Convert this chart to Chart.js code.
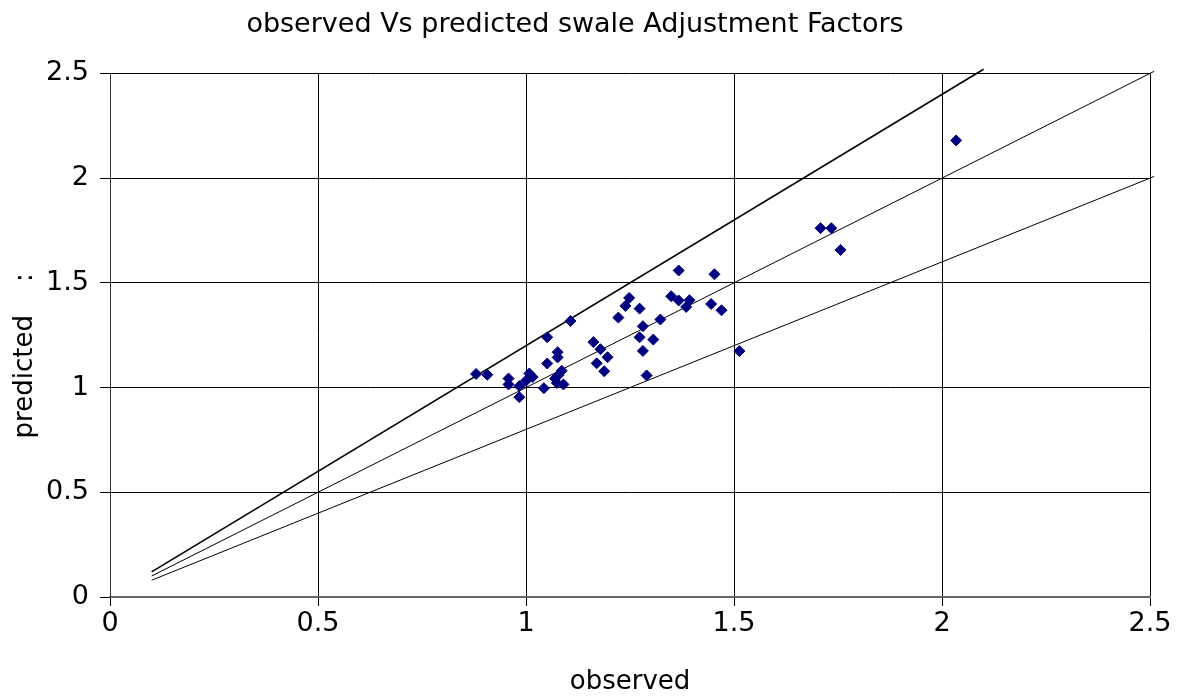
<!DOCTYPE html>
<html>
<head>
<meta charset="utf-8">
<script src="https://cdn.jsdelivr.net/npm/chart.js@4"></script>
<style>
  html, body { margin: 0; padding: 0; background: #fff; }
  #wrap { width: 1179px; height: 698px; }
</style>
</head>
<body>
<div id="wrap"><canvas id="swaleChart"></canvas></div>
<script>
// observed / predicted adjustment factors
const observed = [0.880, 0.907, 0.958, 0.958, 0.984, 0.984, 1.000, 1.008, 1.016, 1.043,
  1.051, 1.051, 1.076, 1.076, 1.070, 1.086, 1.078, 1.074, 1.090, 1.107,
  1.162, 1.170, 1.179, 1.188, 1.196, 1.222, 1.239, 1.248, 1.273, 1.281,
  1.273, 1.281, 1.306, 1.290, 1.323, 1.349, 1.367, 1.367, 1.385, 1.393,
  1.445, 1.453, 1.470, 1.513, 1.708, 1.734, 1.756, 2.034];
const predicted = [1.065, 1.061, 1.043, 1.015, 1.007, 0.954, 1.032, 1.067, 1.050, 0.997,
  1.115, 1.240, 1.169, 1.144, 1.043, 1.080, 1.059, 1.022, 1.015, 1.318,
  1.217, 1.116, 1.183, 1.078, 1.145, 1.334, 1.390, 1.428, 1.377, 1.293,
  1.240, 1.175, 1.229, 1.058, 1.325, 1.436, 1.559, 1.416, 1.385, 1.417,
  1.399, 1.541, 1.369, 1.174, 1.761, 1.761, 1.657, 2.180];

// reference lines: +20%, 1:1, -20%
const upperX = [0.1, 2.1];
const upperY = [0.12, 2.52];
const equalX = [0.1, 2.51];
const equalY = [0.1, 2.51];
const lowerX = [0.1, 2.51];
const lowerY = [0.08, 2.008];

const tickValues = [0, 0.5, 1, 1.5, 2, 2.5];
const tickLabels = ['0', '0.5', '1', '1.5', '2', '2.5'];

const FONT = "'DejaVu Sans', sans-serif";

function toPoints(xs, ys) {
    return xs.map((x, i) => ({ x: x, y: ys[i] }));
}

function lineSet(xs, ys, width) {
    return {
        data: toPoints(xs, ys),
        showLine: true,
        borderColor: '#000',
        borderWidth: width,
        pointRadius: 0,
        pointHoverRadius: 0,
        fill: false,
        clip: 6
    };
}

let ctx = document.getElementById('swaleChart').getContext('2d');
new Chart(ctx, {
    type: 'scatter',
    data: {
        datasets: [
            {
                data: toPoints(observed, predicted),
                pointStyle: 'rectRot',
                pointRadius: 5.5,
                backgroundColor: '#000080',
                borderColor: '#000080',
                borderWidth: 1
            },
            lineSet(upperX, upperY, 1.6),
            lineSet(equalX, equalY, 1),
            lineSet(lowerX, lowerY, 1)
        ]
    },
    options: {
        responsive: true,
        maintainAspectRatio: false,
        animation: false,
        layout: { padding: { left: 0, right: 29, top: 0, bottom: 0 } },
        plugins: {
            legend: { display: false },
            tooltip: { enabled: false },
            title: {
                display: true,
                text: 'observed Vs predicted swale Adjustment Factors',
                color: '#000',
                font: { family: FONT, size: 27, weight: 'normal' },
                padding: { top: 9, bottom: 32 }
            }
        },
        scales: {
            x: {
                type: 'linear',
                min: 0,
                max: 2.5,
                afterBuildTicks: s => { s.ticks = tickValues.map(v => ({ value: v })); },
                afterFit: s => { s.height = 101; },
                ticks: {
                    color: '#000',
                    font: { family: FONT, size: 27 },
                    padding: 2,
                    maxRotation: 0,
                    callback: (v) => tickLabels[tickValues.indexOf(v)]
                },
                grid: { color: '#000', lineWidth: 1, tickLength: 9 },
                border: { color: '#666', width: 2 },
                title: {
                    display: true,
                    text: 'observed',
                    color: '#000',
                    font: { family: FONT, size: 26 },
                    padding: { top: 4, bottom: 0 }
                }
            },
            y: {
                type: 'linear',
                min: 0,
                max: 2.5,
                afterBuildTicks: s => { s.ticks = tickValues.map(v => ({ value: v })); },
                afterFit: s => { s.width = 110; },
                ticks: {
                    color: '#000',
                    font: { family: FONT, size: 27 },
                    padding: 11,
                    callback: (v) => tickLabels[tickValues.indexOf(v)]
                },
                grid: { color: '#000', lineWidth: 1, tickLength: 10 },
                border: { color: '#333', width: 1 },
                title: {
                    display: true,
                    text: 'predicted    :     ',
                    color: '#000',
                    font: { family: FONT, size: 26 },
                    padding: { top: 10, bottom: 0 }
                }
            }
        }
    }
});
</script>
</body>
</html>
